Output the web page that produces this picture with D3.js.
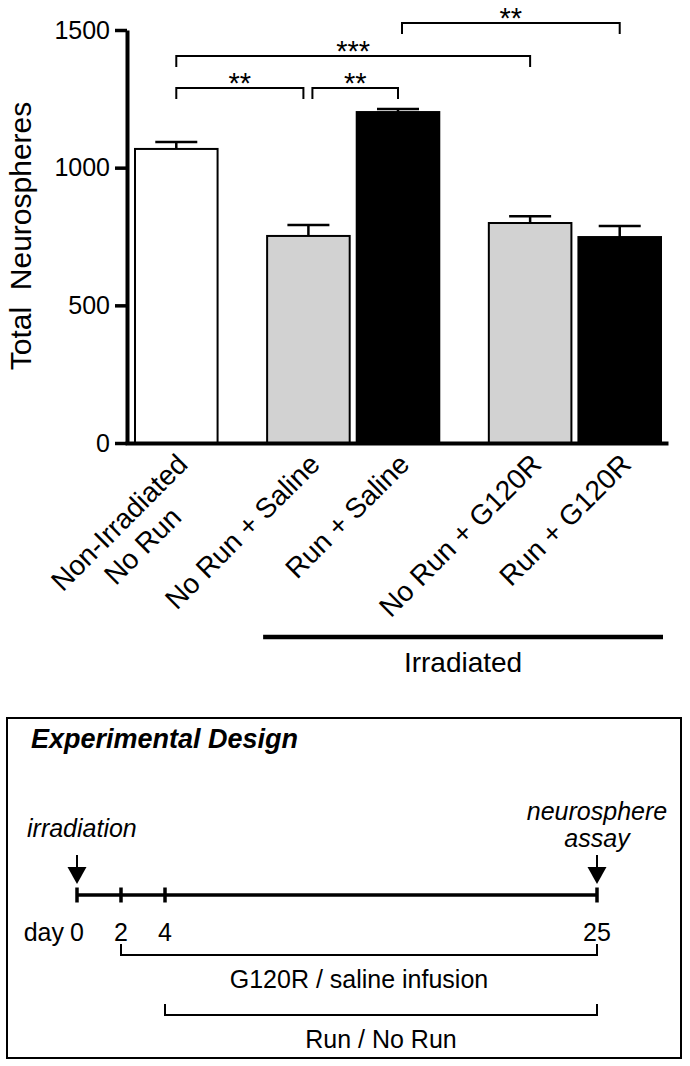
<!DOCTYPE html>
<html>
<head>
<meta charset="utf-8">
<script src="https://cdn.jsdelivr.net/npm/d3@7"></script>
<style>
  html, body { margin: 0; padding: 0; background: #fff; }
  svg { display: block; font-family: "Liberation Sans", Arial, Helvetica, sans-serif; }
</style>
</head>
<body>
<svg id="chart" width="690" height="1066"></svg>
<script>
// ---------- data ----------
const categories = ["Non-Irradiated\nNo Run", "No Run + Saline", "Run + Saline", "No Run + G120R", "Run + G120R"];
const means = [1068, 752, 1202, 799, 748];
const sems = [25, 40, 11, 25, 40];
const groupKind = ["control", "noRun", "run", "noRun", "run"];
const yTicks = [0, 500, 1000, 1500];
const yTitle = "Total  Neurospheres";
const comparisons = [[0, 1, "**"], [1, 2, "**"], [0, 3, "***"], [2, 4, "**"]];
const comparisonLevels = [1289, 1289, 1406, 1525];
const irradiatedGroup = [1, 4];
const irradiatedLabel = "Irradiated";

const designTitle = "Experimental Design";
const days = [0, 2, 4, 25];
const events = [{ day: 0, lines: ["irradiation"] }, { day: 25, lines: ["neurosphere", "assay"] }];
const periods = [{ from: 2, to: 25, label: "G120R / saline infusion" }, { from: 4, to: 25, label: "Run / No Run" }];

// ---------- layout ----------
const svg = d3.select("#chart");
const FONT = '"Liberation Sans", Arial, Helvetica, sans-serif';

const y = d3.scaleLinear().domain([0, 1500]).range([443, 30]);

// bar slots: bar width = 1 unit, gaps between bars in units
const gapUnits = [0.6, 0.085, 0.6, 0.085];
const starts = [0];
gapUnits.forEach((g, i) => starts.push(starts[i] + 1 + g));
const totalUnits = starts[starts.length - 1] + 1;
const xu = d3.scaleLinear().domain([0, totalUnits]).range([135, 661]);
const barW = xu(1) - xu(0);
const barX = i => xu(starts[i]);
const barC = i => barX(i) + barW / 2;

const fillScale = d3.scaleOrdinal().domain(["control", "noRun", "run"]).range(["#ffffff", "#d2d2d2", "#000000"]);

// ---------- bars ----------
svg.append("g").selectAll("rect").data(means).join("rect")
  .attr("x", (d, i) => barX(i))
  .attr("y", d => y(d))
  .attr("width", barW)
  .attr("height", d => y(0) - y(d))
  .attr("fill", (d, i) => fillScale(groupKind[i]))
  .attr("stroke", "#000")
  .attr("stroke-width", 2);

// error bars
const eb = svg.append("g").attr("stroke", "#000").attr("stroke-width", 2.5);
means.forEach((m, i) => {
  eb.append("line").attr("x1", barC(i)).attr("x2", barC(i)).attr("y1", y(m)).attr("y2", y(m + sems[i]));
  eb.append("line").attr("x1", barC(i) - 21).attr("x2", barC(i) + 21).attr("y1", y(m + sems[i])).attr("y2", y(m + sems[i]));
});

// ---------- axes ----------
const yAxis = svg.append("g").attr("transform", "translate(127,0)")
  .call(d3.axisLeft(y).tickValues(yTicks).tickSize(12).tickSizeOuter(0).tickPadding(5).tickFormat(d3.format("d")));
yAxis.select(".domain").attr("stroke-width", 4).attr("stroke", "#000");
yAxis.selectAll(".tick line").attr("stroke-width", 3.5).attr("stroke", "#000");
yAxis.selectAll(".tick text").attr("font-size", 25).attr("font-family", FONT).attr("fill", "#000").attr("x", -17);

const xAxisScale = d3.scaleLinear().domain([0, 1]).range([125, 668]);
const xAxis = svg.append("g").attr("transform", `translate(0,${y(0)})`)
  .call(d3.axisBottom(xAxisScale).tickValues([]).tickSizeOuter(0));
xAxis.select(".domain").attr("stroke-width", 4).attr("stroke", "#000");

// y title
svg.append("text")
  .attr("transform", "translate(31,236) rotate(-90)")
  .attr("text-anchor", "middle")
  .attr("font-size", 30)
  .attr("xml:space", "preserve")
  .style("white-space", "pre")
  .text(yTitle);

// x labels
categories.forEach((c, i) => {
  const g = svg.append("g").attr("transform", `translate(${barC(i) + 13},${466}) rotate(-45)`);
  const lines = c.split("\n");
  const t0 = g.append("text").attr("text-anchor", "end").attr("font-size", 28).text(lines[0]);
  if (lines[1]) {
    const w0 = t0.node().getComputedTextLength();
    g.append("text").attr("text-anchor", "middle").attr("font-size", 28)
      .attr("x", -w0 / 2).attr("y", 33).text(lines[1]);
  }
});

// significance brackets
const nudge = (i, j, k) => {
  // shift endpoints where two brackets meet at the same bar
  let a = barC(i), b = barC(j);
  comparisons.forEach((o, kk) => {
    if (kk === k) return;
    if (o[1] === i && comparisonLevels[kk] === comparisonLevels[k]) a += 4;
    if (o[0] === j && comparisonLevels[kk] === comparisonLevels[k]) b -= 5;
  });
  if (comparisons.some((o, kk) => kk !== k && o[1] === i && comparisonLevels[kk] !== comparisonLevels[k] && o[0] !== i)) a += 4;
  return [a, b];
};
const br = svg.append("g");
comparisons.forEach((c, k) => {
  const [a, b] = nudge(c[0], c[1], k);
  const yy = y(comparisonLevels[k]);
  br.append("path")
    .attr("d", `M${a},${yy + 11}V${yy}H${b}V${yy + 11}`)
    .attr("fill", "none").attr("stroke", "#000").attr("stroke-width", 2);
  br.append("text").attr("x", (a + b) / 2).attr("y", yy + 5)
    .attr("text-anchor", "middle").attr("font-size", 29).text(c[2]);
});

// irradiated group line
const irrX1 = barX(irradiatedGroup[0]) - 4, irrX2 = barX(irradiatedGroup[1]) + barW + 2;
svg.append("line").attr("x1", irrX1).attr("x2", irrX2).attr("y1", 637).attr("y2", 637)
  .attr("stroke", "#000").attr("stroke-width", 4.5);
svg.append("text").attr("x", (irrX1 + irrX2) / 2).attr("y", 672).attr("text-anchor", "middle")
  .attr("font-size", 28).text(irradiatedLabel);

// ---------- experimental design box ----------
const box = svg.append("g");
box.append("rect").attr("x", 7).attr("y", 718).attr("width", 674).attr("height", 340)
  .attr("fill", "none").attr("stroke", "#000").attr("stroke-width", 2);
box.append("text").attr("x", 31).attr("y", 748).attr("font-size", 27)
  .attr("font-weight", "bold").attr("font-style", "italic").text(designTitle);

const dx = d3.scaleLinear().domain([0, 4, 25]).range([77, 165, 597]);
const lineY = 895;
box.append("line").attr("x1", dx(days[0])).attr("x2", dx(days[days.length - 1]))
  .attr("y1", lineY).attr("y2", lineY).attr("stroke", "#000").attr("stroke-width", 3.5);
box.selectAll(".dtick").data(days).join("line")
  .attr("x1", d => dx(d)).attr("x2", d => dx(d))
  .attr("y1", lineY - 7.5).attr("y2", lineY + 7.5)
  .attr("stroke", "#000").attr("stroke-width", 3.5);
box.selectAll(".dlab").data(days).join("text")
  .attr("x", d => dx(d)).attr("y", 941).attr("text-anchor", "middle")
  .attr("font-size", 25).text(d => d);
box.append("text").attr("x", dx(0) - 13).attr("y", 941).attr("text-anchor", "end")
  .attr("font-size", 25).text("day");

events.forEach(ev => {
  const x0 = dx(ev.day);
  box.append("line").attr("x1", x0).attr("x2", x0).attr("y1", 855).attr("y2", 870)
    .attr("stroke", "#000").attr("stroke-width", 2);
  box.append("path").attr("d", `M${x0 - 9.5},867L${x0 + 9.5},867L${x0},884Z`).attr("fill", "#000");
  const n = ev.lines.length;
  ev.lines.forEach((l, li) => {
    const t = box.append("text").attr("y", 837 - (n - 1 - li) * 27 + (n > 1 ? 10 : 0))
      .attr("font-size", 25).attr("font-style", "italic").text(l);
    if (ev.day === 0) t.attr("x", 27);
    else t.attr("x", x0).attr("text-anchor", "middle");
  });
});

periods.forEach((p, k) => {
  const yy = k === 0 ? 955 : 1015;
  const a = dx(p.from), b = dx(p.to);
  box.append("path").attr("d", `M${a},${yy - 11}V${yy}H${b}V${yy - 11}`)
    .attr("fill", "none").attr("stroke", "#000").attr("stroke-width", 2);
  box.append("text").attr("x", (a + b) / 2).attr("y", yy + 33).attr("text-anchor", "middle")
    .attr("font-size", 25).text(p.label);
});
</script>
</body>
</html>
